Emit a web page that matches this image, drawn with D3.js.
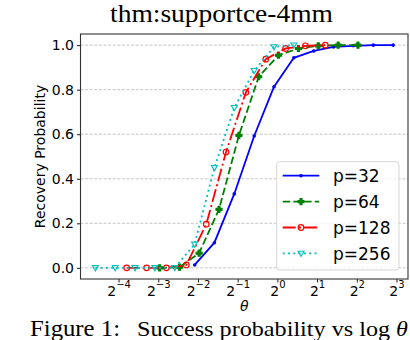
<!DOCTYPE html>
<html lang="en">
<head>
    <meta charset="UTF-8">
    <title>thm:supportce-4mm</title>
    <script src="https://d3js.org/d3.v7.min.js"></script>
    <style>
        body { margin: 0; background: #fff; }
        svg { display: block; }
        .tick text { font-family: "DejaVu Sans", sans-serif; font-size: 14px; fill: #000; }
        .serif { font-family: "Liberation Serif", "Times New Roman", serif; fill: #000; }
    </style>
</head>
<body>
<svg width="410" height="340"></svg>
<script>
    // values
    const labels = ['p=32', 'p=64', 'p=128', 'p=256'];
    const theta32  = [0.236, 0.333, 0.471, 0.667, 0.943, 1.333, 1.886, 2.667, 3.771, 5.333, 7.542];
    const prob32   = [0.013, 0.113, 0.332, 0.592, 0.813, 0.943, 0.974, 0.992, 0.997, 1.0, 1.0];
    const theta64  = [0.128, 0.181, 0.255, 0.361, 0.511, 0.722, 1.021, 1.444, 2.042, 2.888, 4.084];
    const prob64   = [0.0, 0.003, 0.066, 0.263, 0.595, 0.858, 0.955, 0.985, 0.997, 1.0, 1.0];
    const theta128 = [0.072, 0.102, 0.144, 0.204, 0.289, 0.408, 0.577, 0.816, 1.155, 1.633, 2.309];
    const prob128  = [0.0, 0.0, 0.0, 0.013, 0.196, 0.52, 0.788, 0.937, 0.985, 0.997, 1.0];
    const theta256 = [0.0417, 0.0589, 0.0833, 0.1179, 0.1667, 0.2357, 0.3333, 0.4714, 0.6667, 0.9428, 1.3333];
    const prob256  = [0.0, 0.0, 0.0, 0.0, 0.001, 0.106, 0.45, 0.719, 0.885, 0.992, 1.0];
    const xTickExp = [-4, -3, -2, -1, 0, 1, 2, 3];
    const yTicks   = [0.0, 0.2, 0.4, 0.6, 0.8, 1.0];

    const thetas = [theta32, theta64, theta128, theta256];
    const probs  = [prob32, prob64, prob128, prob256];
    const styles = [
        {color: '#0000ff', dash: null,             marker: 'dot'},
        {color: '#008000', dash: '7.5,3.2',        marker: 'plus'},
        {color: '#ff0000', dash: '13,3.2,2,3.2',   marker: 'circle'},
        {color: '#00bfbf', dash: '2,3.3',          marker: 'tri'}
    ];

    const svg = d3.select('svg');
    const pl = 80.5, pr = 408, pt = 34, pb = 279;

    // log2 domain with 5% margins like matplotlib
    const allT = thetas.flat();
    const lo = Math.log2(d3.min(allT)), hi = Math.log2(d3.max(allT));
    const pad = (hi - lo) * 0.05;
    const x = d3.scaleLog().base(2)
        .domain([Math.pow(2, lo - pad), Math.pow(2, hi + pad)])
        .range([pl, pr]);
    const y = d3.scaleLinear().domain([-0.05, 1.05]).range([pb, pt]);

    // grid
    svg.append('g').selectAll('line').data(yTicks).enter().append('line')
        .attr('x1', pl).attr('x2', pr)
        .attr('y1', d => y(d)).attr('y2', d => y(d))
        .style('stroke', '#b8b8b8').style('stroke-width', 0.8)
        .style('stroke-dasharray', '3,1.6');

    // axes
    let ya = svg.append('g').attr('transform', 'translate(' + pl + ',0)')
        .call(d3.axisLeft(y).tickValues(yTicks).tickFormat(d3.format('.1f')).tickSize(3.5).tickPadding(3));
    let xa = svg.append('g').attr('transform', 'translate(0,' + pb + ')')
        .call(d3.axisBottom(x).tickValues(xTickExp.map(e => Math.pow(2, e))).tickFormat('').tickSize(3.5));
    ya.select('.domain').remove();
    xa.select('.domain').remove();
    svg.selectAll('.tick line').style('stroke', '#000').style('stroke-width', 0.9);

    // x tick labels 2^k
    xa.selectAll('.tick').each(function (d, i) {
        let t = d3.select(this).append('text')
            .attr('y', 17).attr('text-anchor', 'middle');
        t.append('tspan').text('2');
        t.append('tspan').attr('dy', -8).style('font-size', '10px')
            .text(String(xTickExp[i]).replace('-', '\u2212'));
    });

    // frame
    svg.append('rect').attr('x', pl).attr('y', pt)
        .attr('width', pr - pl).attr('height', pb - pt)
        .style('fill', 'none').style('stroke', '#333').style('stroke-width', 1.1);

    function drawMarker(g, type, color, cx, cy) {
        if (type === 'dot') {
            g.append('circle').attr('cx', cx).attr('cy', cy).attr('r', 1.8).style('fill', color);
        } else if (type === 'plus') {
            g.append('path').attr('d', d3.symbol(d3.symbolCross, 20)())
                .attr('transform', 'translate(' + cx + ',' + cy + ')')
                .style('fill', color).style('stroke', color).style('stroke-width', 1.2)
                .style('stroke-linejoin', 'round');
        } else if (type === 'circle') {
            g.append('circle').attr('cx', cx).attr('cy', cy).attr('r', 2.8)
                .style('fill', 'none').style('stroke', color).style('stroke-width', 1.2);
        } else {
            g.append('path').attr('d', 'M-3,-2.2L3,-2.2L0,3z')
                .attr('transform', 'translate(' + cx + ',' + cy + ')')
                .style('fill', 'none').style('stroke', color).style('stroke-width', 1.1);
        }
    }

    const line = d3.line().x(d => x(d[0])).y(d => y(d[1]));
    thetas.forEach((th, s) => {
        let st = styles[s];
        let pts = th.map((t, i) => [t, probs[s][i]]);
        let g = svg.append('g');
        g.append('path').datum(pts).attr('d', line)
            .style('fill', 'none').style('stroke', st.color).style('stroke-width', 1.8)
            .style('stroke-dasharray', st.dash);
        pts.forEach(p => drawMarker(g, st.marker, st.color, x(p[0]), y(p[1])));
    });

    // legend
    let lg = svg.append('g');
    lg.append('rect').attr('x', 276.7).attr('y', 161.7).attr('width', 122.3).attr('height', 108.3)
        .attr('rx', 3).style('fill', 'rgba(255,255,255,0.8)').style('stroke', '#d5d5d5');
    labels.forEach((lab, i) => {
        let yy = 175.7 + i * 25.9;
        lg.append('line').attr('x1', 282.7).attr('x2', 319.3).attr('y1', yy).attr('y2', yy)
            .style('stroke', styles[i].color).style('stroke-width', 1.8)
            .style('stroke-dasharray', styles[i].dash);
        drawMarker(lg, styles[i].marker, styles[i].color, 301, yy);
        lg.append('text').attr('x', 333).attr('y', yy).attr('dy', '0.36em')
            .style('font-family', '"DejaVu Sans", sans-serif').style('font-size', '17px')
            .text(lab);
    });

    // axis labels
    svg.append('text').attr('transform', 'translate(45,156.5) rotate(-90)')
        .attr('text-anchor', 'middle')
        .style('font-family', '"DejaVu Sans", sans-serif').style('font-size', '14px')
        .text('Recovery Probability');
    svg.append('text').attr('x', (pl + pr) / 2).attr('y', 311).attr('text-anchor', 'middle')
        .style('font-family', '"DejaVu Sans", sans-serif').style('font-size', '14px')
        .style('font-style', 'italic').text('\u03b8');

    // title and caption from the page around the figure
    svg.append('text').attr('class', 'serif').attr('x', 110).attr('y', 22)
        .attr('textLength', 223).attr('lengthAdjust', 'spacingAndGlyphs')
        .style('font-size', '25px').text('thm:supportce-4mm');
    svg.append('text').attr('class', 'serif').attr('x', 30).attr('y', 336)
        .attr('textLength', 90).attr('lengthAdjust', 'spacingAndGlyphs')
        .style('font-size', '24px').text('Figure 1:');
    let cap = svg.append('text').attr('class', 'serif').attr('x', 137).attr('y', 336)
        .attr('textLength', 271).attr('lengthAdjust', 'spacingAndGlyphs')
        .style('font-size', '22px');
    cap.append('tspan').text('Success probability vs log ');
    cap.append('tspan').style('font-style', 'italic').text('\u03b8');
</script>
</body>
</html>
